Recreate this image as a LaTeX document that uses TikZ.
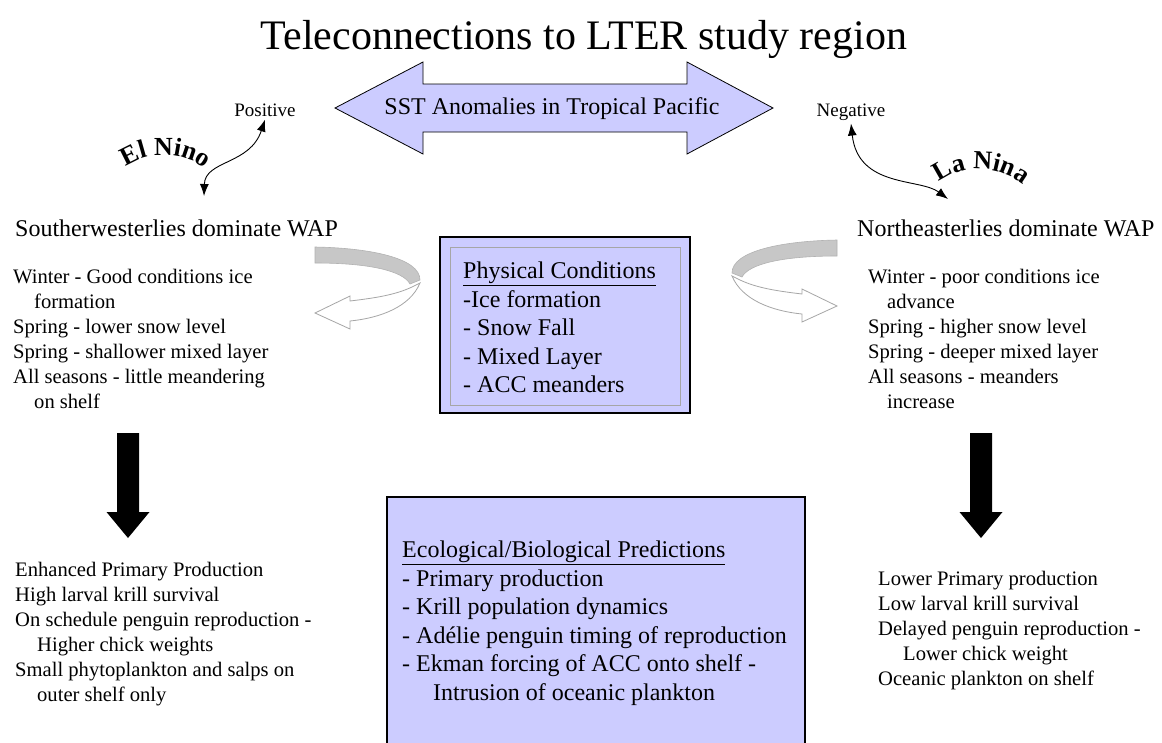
\documentclass[tikz,border=0pt]{standalone}
\usepackage{fontspec}
\setmainfont{Liberation Serif}
\usepackage{tikz}
\newcommand{\blockdown}[1]% top centre of shaft
{(#1) ++(-11,0) -- ++(22,0) -- ++(0,79) -- ++(10.5,0) -- ++(-21.5,26) -- ++(-21.5,-26) -- ++(10.5,0) -- cycle
}
\newcommand{\swooshback}% grey band behind
{(0,0) .. controls (55,1) and (105,11) .. (105,33) -- (95,37) .. controls (88,24) and (55,16) .. (0,16) -- cycle
}
\newcommand{\swooshfront}% white arrow in front
{(97,40) .. controls (80,48) and (60,51) .. (35,54) -- (35,49) -- (0,66) -- (35,82) -- (35,74) .. controls (65,71) and (95,60) .. (105,36) -- cycle
}
\newcommand{\txtsize}{\fontsize{20.6}{25}\selectfont}
\newcommand{\boxsize}{\fontsize{24}{28.5}\selectfont}
\newcommand{\ninosize}{\fontsize{26}{26}\selectfont\bfseries}
\definecolor{lav}{HTML}{CCCCFF}
\usetikzlibrary{arrows.meta}
\usetikzlibrary{decorations.text}

\tikzset{
	txt/.style={font=\txtsize, align=left, anchor=north west, inner sep=0},
	boxtxt/.style={font=\boxsize, align=left, anchor=north west, inner sep=0},
	panel/.style={fill=lav, draw=black, line width=1.2pt},
	squig/.style={line width=0.9pt, {Latex[length=12pt,width=9pt]}-{Latex[length=12pt,width=9pt]}},
	swback/.style={fill=black!22, draw=black!30, line width=0.6pt},
	swfront/.style={fill=white, draw=black!35, line width=0.8pt}
}

\begin{document}
\begin{tikzpicture}[x=1pt, y=-1pt]
	\useasboundingbox[fill=white] (0,0) rectangle (1162,742);
	\node[font=\fontsize{42}{46}\selectfont, anchor=base] (title) at (584,49) {Teleconnections to LTER study region};
	% SST double arrow
	\filldraw[fill=lav, draw=black, line width=0.8pt] (335,108) -- (423,62) -- (423,84) -- (687,84) -- (687,62) -- (773,108) -- (687,154) -- (687,132) -- (423,132) -- (423,154) -- cycle;
	\node[font=\boxsize] (sst) at (552,109) {SST Anomalies in Tropical Pacific};
	\node[font=\fontsize{19}{22}\selectfont, inner sep=3pt] (pos) at (265,110) {Positive};
	\node[font=\fontsize{19}{22}\selectfont, inner sep=3pt] (neg) at (851,112) {Negative};
	% El Nino / La Nina
	\path[decorate, decoration={text along path, text align=center, text={|\ninosize|El Nino}}] (118,173) .. controls (142,149) and (188,149) .. (212,175);
	\path[decorate, decoration={text along path, text align=center, text={|\ninosize|La Nina}}] (934,187) .. controls (958,163) and (1002,163) .. (1028,189);
	\coordinate (elnino) at (204,196);
	\coordinate (lanina) at (948,199);
	\draw[squig] (elnino) .. controls (205,160) and (250,165) .. (pos.south);
	\draw[squig] (neg.south) .. controls (858,188) and (920,178) .. (lanina);
	% wind regimes
	\node[font=\boxsize, anchor=base west, inner sep=0] (sw) at (15,236) {Southerwesterlies dominate WAP};
	\node[font=\boxsize, anchor=base west, inner sep=0] (ne) at (857,236) {Northeasterlies dominate WAP};
	\node[txt] (swlist) at (13,269) {Winter - Good conditions ice\\\hspace*{21pt}formation\\Spring - lower snow level\\Spring - shallower mixed layer\\All seasons - little meandering\\\hspace*{21pt}on shelf};
	\node[txt] (nelist) at (868,269) {Winter - poor conditions ice\\\hspace*{19pt}advance\\Spring - higher snow level\\Spring - deeper mixed layer\\All seasons - meanders\\\hspace*{19pt}increase};
	% physical conditions box
	\draw[panel] (440,237) rectangle (690,413);
	\draw[black!35, line width=1pt] (450,247) rectangle (680,405);
	\node[boxtxt] (phys) at (463,262) {\underline{Physical Conditions}\\-Ice formation\\- Snow Fall\\- Mixed Layer\\- ACC meanders};
	% turning arrows
	\begin{scope}[shift={(315,247)}]
		\draw[swback] \swooshback;
		\draw[swfront] \swooshfront;
	\end{scope}
	\begin{scope}[shift={(837,240)}, xscale=-1]
		\draw[swback] \swooshback;
		\draw[swfront] \swooshfront;
	\end{scope}
	% consequences
	\fill \blockdown{128,433};
	\fill \blockdown{981,433};
	\node[txt] (swres) at (15,562) {Enhanced Primary Production\\High larval krill survival\\On schedule penguin reproduction -\\\hspace*{22pt}Higher chick weights\\Small phytoplankton and salps on\\\hspace*{22pt}outer shelf only};
	\node[txt] (neres) at (878,571) {Lower Primary production\\Low larval krill survival\\Delayed penguin reproduction -\\\hspace*{25pt}Lower chick weight\\Oceanic plankton on shelf};
	% predictions box
	\draw[panel] (387,497) rectangle (805,760);
	\node[boxtxt] (eco) at (402,541) {\underline{Ecological/Biological Predictions}\\- Primary production\\- Krill population dynamics\\- Adélie penguin timing of reproduction\\- Ekman forcing of ACC onto shelf -\\\hspace*{31pt}Intrusion of oceanic plankton};
\end{tikzpicture}
\end{document}
